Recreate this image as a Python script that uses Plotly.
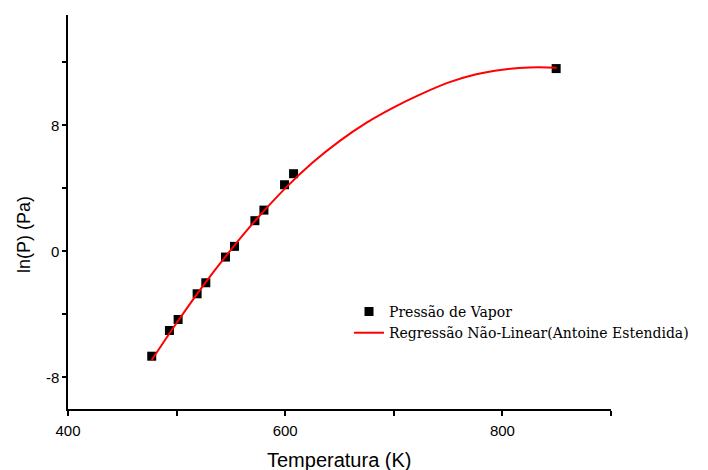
import plotly.graph_objects as go

# Measured data: vapour pressure
temp_k = [477.1, 493.4, 501.4, 518.9, 526.9, 545.0, 553.3, 572.1, 580.4, 599.4, 607.7, 849.5]
ln_p = [-6.65, -5.02, -4.32, -2.69, -1.99, -0.36, 0.32, 1.95, 2.62, 4.23, 4.93, 11.6]

# Fitted curve (Antoine extended regression)
fit_t = [477, 500, 525, 550, 575, 600, 625, 650, 675, 700, 725, 750, 775, 800, 825, 850]
fit_lnp = [-6.90, -4.54, -2.12, 0.10, 2.15, 4.00, 5.62, 7.00, 8.17, 9.14, 9.98, 10.71, 11.23, 11.53, 11.67, 11.66]

series_names = ["Pressão de Vapor", "Regressão Não-Linear(Antoine Estendida)"]
x_title = "Temperatura (K)"
y_title = "ln(P) (Pa)"
x_ticks = [400, 600, 800]
x_ticklabels = ["400", "600", "800"]
y_ticks = [-8, 0, 8]
y_ticklabels = ["-8", "0", "8"]

fig = go.Figure()
fig.add_trace(go.Scatter(
    x=temp_k, y=ln_p, mode="markers", name=series_names[0],
    marker=dict(symbol="square", size=9, color="black"),
))
fig.add_trace(go.Scatter(
    x=fit_t, y=fit_lnp, mode="lines", name=series_names[1],
    line=dict(color="#ff0000", width=2, shape="spline", smoothing=1.0),
))

axis_font = dict(family="Arial, Liberation Sans, sans-serif", size=15, color="black")

fig.update_layout(
    width=708, height=470,
    margin=dict(l=68, r=97, t=15, b=61, autoexpand=False),
    paper_bgcolor="white", plot_bgcolor="white",
    showlegend=True,
    legend=dict(
        x=0.5175, y=0.287, xanchor="left", yanchor="top",
        bgcolor="rgba(0,0,0,0)",
        font=dict(family="DejaVu Serif, Liberation Serif, serif", size=14, color="black"),
        itemwidth=30, tracegroupgap=0,
    ),
    xaxis=dict(
        range=[400, 900], tickvals=x_ticks, ticktext=x_ticklabels,
        showline=True, linecolor="black", linewidth=1.5,
        ticks="outside", ticklen=5, tickwidth=1.5, tickcolor="black",
        minor=dict(dtick=100, tick0=400, ticks="outside", ticklen=5, tickwidth=1.5, tickcolor="black"),
        showgrid=False, zeroline=False, tickfont=axis_font, ticklabelstandoff=2,
    ),
    yaxis=dict(
        range=[-10, 15], tickvals=y_ticks, ticktext=y_ticklabels,
        showline=True, linecolor="black", linewidth=1.5,
        ticks="outside", ticklen=4, tickwidth=1.5, tickcolor="black",
        minor=dict(dtick=4, tick0=0, ticks="outside", ticklen=4, tickwidth=1.5, tickcolor="black"),
        showgrid=False, zeroline=False, tickfont=axis_font,
    ),
    annotations=[
        dict(text=x_title, xref="paper", yref="paper", x=0.5, y=-0.13,
             xanchor="center", yanchor="middle", showarrow=False,
             font=dict(family="Arial, Liberation Sans, sans-serif", size=20, color="black")),
        dict(text=y_title, xref="paper", yref="paper", x=-0.08, y=0.443,
             xanchor="center", yanchor="middle", showarrow=False, textangle=-90,
             font=dict(family="Arial, Liberation Sans, sans-serif", size=18, color="black")),
    ],
)

fig.write_html("out.html")
